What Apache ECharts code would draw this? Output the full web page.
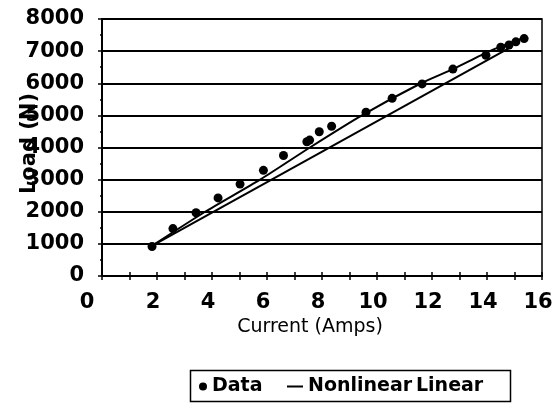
<!DOCTYPE html>
<html>
<head>
<meta charset="utf-8">
<script src="https://cdn.jsdelivr.net/npm/echarts@6/dist/echarts.min.js"></script>
<style>html,body{margin:0;padding:0;background:#fff;}#c{width:556px;height:419px;}</style>
</head>
<body>
<div id="c"></div>
<script>
// Data
const dataCurrent = [1.82, 2.58, 3.42, 4.22, 5.02, 5.87, 6.6, 7.45, 7.55, 7.9, 8.35, 9.6, 10.55, 11.64, 12.76, 13.96, 14.5, 14.8, 15.05, 15.35];
const dataLoad    = [920, 1475, 1970, 2430, 2860, 3290, 3750, 4180, 4230, 4490, 4660, 5100, 5530, 5980, 6440, 6870, 7120, 7190, 7290, 7390];
const nonlinearCurrent = [1.8, 3.75, 5.75, 7.56, 9.45, 11.6, 12.76, 14.1, 15.45];
const nonlinearLoad    = [930, 2000, 3000, 4000, 5000, 6000, 6440, 7000, 7450];
const linearCurrent = [1.8, 14.9];
const linearLoad    = [930, 7140];
const seriesNames = ['Data', 'Nonlinear', 'Linear'];
const xTitle = 'Current (Amps)';
const yTitle = 'Load (N)';

const zip = (a, b) => a.map((v, i) => [v, b[i]]);
const ff = 'DejaVu Sans';
const plain = v => String(v);
const chart = echarts.init(document.getElementById('c'), null, {renderer: 'canvas'});
const axisLine = {show: true, lineStyle: {color: '#000', width: 2}};
chart.setOption({
  animation: false,
  backgroundColor: '#fff',
  grid: {left: 102, right: 14, top: 19, bottom: 143, containLabel: false, outerBoundsMode: 'none',
         show: true, borderColor: '#000', borderWidth: 1.5, backgroundColor: 'transparent'},
  xAxis: [{
    type: 'value', min: 0, max: 16, interval: 2,
    name: xTitle, nameLocation: 'middle', nameGap: 42, nameMoveOverlap: false,
    nameTextStyle: {fontFamily: ff, fontSize: 19, color: '#000', padding: [0, 24, 0, 0]},
    axisLine: axisLine,
    axisTick: {show: true, length: 4, lineStyle: {color: '#000', width: 1.5}},
    minorTick: {show: true, splitNumber: 2, length: 4, lineStyle: {color: '#000', width: 1.5}},
    axisLabel: {fontFamily: ff, fontWeight: 'bold', fontSize: 21, color: '#000', margin: 16,
                padding: [0, 8, 0, 0],
                formatter: v => v === 0 ? '{z|0}' : String(v),
                rich: {z: {fontFamily: ff, fontWeight: 'bold', fontSize: 21, color: '#000', padding: [0, 22, 0, 0]}}},
    splitLine: {show: false}
  }, {
    type: 'value', min: 0, max: 16, interval: 2, position: 'bottom',
    axisLine: {show: false},
    axisTick: {show: true, inside: true, length: 4, lineStyle: {color: '#000', width: 1.5}},
    minorTick: {show: true, splitNumber: 2, length: 4, lineStyle: {color: '#000', width: 1.5}},
    axisLabel: {show: false}, splitLine: {show: false}
  }],
  yAxis: [{
    type: 'value', min: 0, max: 8000, interval: 1000,
    name: yTitle, nameLocation: 'middle', nameGap: 62, nameMoveOverlap: false,
    nameTextStyle: {fontFamily: ff, fontWeight: 'bold', fontSize: 21, color: '#000', padding: [0, 0, 0, 8]},
    axisLine: axisLine,
    axisTick: {show: true, length: 4, lineStyle: {color: '#000', width: 1.5}},
    minorTick: {show: true, splitNumber: 2, length: 2, lineStyle: {color: '#000', width: 1.5}},
    axisLabel: {fontFamily: ff, fontWeight: 'bold', fontSize: 21, color: '#000', margin: 18, formatter: plain},
    splitLine: {show: true, lineStyle: {color: '#000', width: 2}}
  }, {
    type: 'value', min: 0, max: 8000, interval: 1000, position: 'left',
    axisLine: {show: false},
    axisTick: {show: false},
    minorTick: {show: true, splitNumber: 2, length: 2, lineStyle: {color: '#000', width: 1.5}},
    axisLabel: {show: false}, splitLine: {show: false}
  }],
  legend: [{
    data: [{name: seriesNames[0], icon: 'circle'}], left: 194, top: 372,
    itemWidth: 8, itemHeight: 8, itemGap: 0, selectedMode: false,
    itemStyle: {color: '#000', opacity: 1},
    textStyle: {fontFamily: ff, fontWeight: 'bold', fontSize: 19, color: '#000'}
  }, {
    data: [{name: seriesNames[1], icon: 'rect'}], left: 282, top: 372,
    itemWidth: 16, itemHeight: 2, selectedMode: false,
    itemStyle: {color: '#000'},
    textStyle: {fontFamily: ff, fontWeight: 'bold', fontSize: 19, color: '#000'}
  }, {
    data: [{name: seriesNames[2], icon: 'none'}], left: 405, top: 372,
    itemWidth: 1, itemHeight: 2, selectedMode: false,
    textStyle: {fontFamily: ff, fontWeight: 'bold', fontSize: 19, color: '#000'}
  }],
  graphic: [{
    type: 'rect', left: 188, top: 368, silent: true,
    shape: {width: 320, height: 31},
    style: {fill: 'none', stroke: '#000', lineWidth: 1.5}
  }],
  series: [{
    name: seriesNames[0], type: 'scatter', data: zip(dataCurrent, dataLoad),
    symbol: 'circle', symbolSize: 9, itemStyle: {color: '#000', opacity: 1}, z: 5
  }, {
    name: seriesNames[1], type: 'line', data: zip(nonlinearCurrent, nonlinearLoad),
    smooth: 0.2, showSymbol: false, lineStyle: {color: '#000', width: 2}, itemStyle: {color: '#000'}
  }, {
    name: seriesNames[2], type: 'line', data: zip(linearCurrent, linearLoad),
    showSymbol: false, lineStyle: {color: '#000', width: 2}, itemStyle: {color: '#000'}
  }]
});
</script>
</body>
</html>
